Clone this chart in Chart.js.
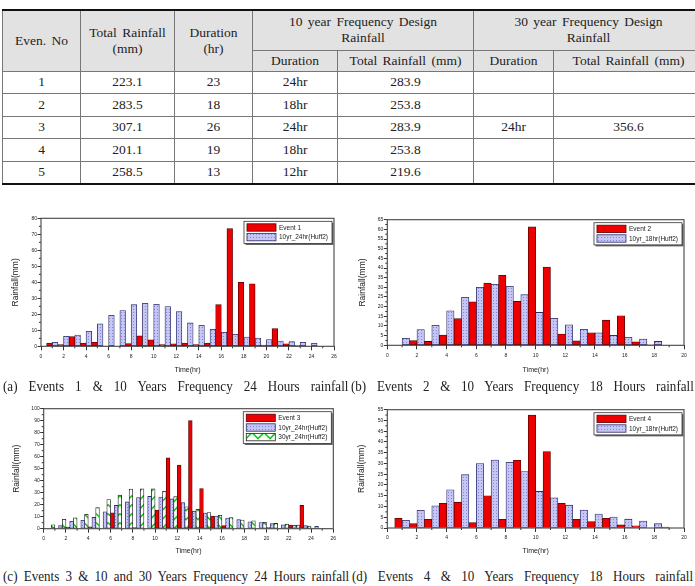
<!DOCTYPE html>
<html>
<head>
<meta charset="utf-8">
<script src="https://cdn.jsdelivr.net/npm/chart.js@4.4.1/dist/chart.umd.min.js"></script>
<style>
  body { margin:0; width:695px; height:586px; background:#fff; position:relative; overflow:hidden; font-family:"Liberation Serif", serif; color:#222; }
  canvas { position:absolute; }
  #tbl { position:absolute; left:2px; top:9px; border-collapse:collapse; table-layout:fixed; width:701px; font-size:13.5px; word-spacing:2px; }
  #tbl td, #tbl th { border:1px solid #777; padding:0; text-align:center; font-weight:normal; line-height:16px; }
  #tbl th { background:#e2e2e2; }
  #tbl tr:first-child th { border-top:2px solid #111; }
  #tbl tr:last-child td { border-bottom:2px solid #111; }
  #tbl .h1 { height:40px; } #tbl .h2 { height:21px; } #tbl .r { height:22.5px; }
  .cap { position:absolute; font-size:15px; line-height:18px; text-align:justify; text-align-last:justify; transform:scaleX(0.87); transform-origin:0 0; }
</style>
</head>
<body>
<table id="tbl">
  <colgroup><col style="width:78px"><col style="width:94px"><col style="width:78px"><col style="width:85px"><col style="width:136px"><col style="width:80px"><col style="width:150px"></colgroup>
  <tr class="h1"><th rowspan="2">Even. No</th><th rowspan="2">Total Rainfall<br>(mm)</th><th rowspan="2">Duration<br>(hr)</th><th colspan="2">10 year Frequency Design<br>Rainfall</th><th colspan="2">30 year Frequency Design<br>Rainfall</th></tr>
  <tr class="h2"><th>Duration</th><th>Total Rainfall (mm)</th><th>Duration</th><th>Total Rainfall (mm)</th></tr>
  <tr class="r"><td>1</td><td>223.1</td><td>23</td><td>24hr</td><td>283.9</td><td></td><td></td></tr>
  <tr class="r"><td>2</td><td>283.5</td><td>18</td><td>18hr</td><td>253.8</td><td></td><td></td></tr>
  <tr class="r"><td>3</td><td>307.1</td><td>26</td><td>24hr</td><td>283.9</td><td>24hr</td><td>356.6</td></tr>
  <tr class="r"><td>4</td><td>201.1</td><td>19</td><td>18hr</td><td>253.8</td><td></td><td></td></tr>
  <tr class="r"><td>5</td><td>258.5</td><td>13</td><td>12hr</td><td>219.6</td><td></td><td></td></tr>
</table>

<canvas id="chA"></canvas>
<canvas id="chB"></canvas>
<canvas id="chC"></canvas>
<canvas id="chD"></canvas>

<div class="cap" style="left:3px;top:377px;width:397px">(a) Events 1 &amp; 10 Years Frequency 24 Hours rainfall</div>
<div class="cap" style="left:351px;top:377px;width:394px">(b) Events 2 &amp; 10 Years Frequency 18 Hours rainfall</div>
<div class="cap" style="left:3px;top:567px;width:398px">(c) Events 3 &amp; 10 and 30 Years Frequency 24 Hours rainfall</div>
<div class="cap" style="left:352px;top:567px;width:392px">(d) Events 4 &amp; 10 Years Frequency 18 Hours rainfall</div>

<script>
/* rainfall hyetographs: observed events vs Huff design storms */

// hourly values (mm)
const hours24 = [1,2,3,4,5,6,7,8,9,10,11,12,13,14,15,16,17,18,19,20,21,22,23,24];
const event1 = [2,1,6,2,2.5,0,0,1.7,6.5,4,1,1.5,2,1,2,26,73.5,40,39,0.8,11,1.5,0.5,0];
const huff10yr24 = [2.5,6.2,7,9.4,14,19.4,22.3,26,26.9,26.3,24.8,21.7,14.6,13.1,10.6,8.8,7.5,5.8,5.2,4.2,3.3,2.9,2.5,1.9];

const hours19 = [1,2,3,4,5,6,7,8,9,10,11,12,13,14,15,16,17,18,19];
const event2 = [0,2.5,2,5.3,13.8,22.5,32.2,36.2,22.7,61.3,40.5,5.8,2.3,6.5,13,15.3,1.8,0.3];
const huff10yr18 = [3.6,8.2,10.3,17.8,24.8,30,31.6,30.5,26.2,17,14,10.6,8.3,6.5,5.1,4.1,3.2,2];
const event4 = [4.5,2,4,11.5,12,2.5,15,4,31.5,52.5,35.5,11.5,4,3,4.5,1.5,1,0,0.4];

// event 3 chart groups three bars per hour slot
const slots25 = [0.5,1.5,2.5,3.5,4.5,5.5,6.5,7.5,8.5,9.5,10.5,11.5,12.5,13.5,14.5,15.5,16.5,17.5,18.5,19.5,20.5,21.5,22.5,23.5,24.5];
const event3 = [0,0,1.4,0,1.5,0,13.3,0,1,0,15.5,59,53,90,33.4,10.6,2.5,0,0,0,1,0,3,19.4,0.5];
const huff10yr24c = [0, ...huff10yr24];
const huff30yr24 = [3.3,7.8,9,12,17.5,24.3,28,33,33.3,33.3,31.2,26.7,18.3,16.1,13.4,11.1,9.2,7.2,6.6,5.3,4.4,3.9,3,2.2,0];

Chart.defaults.font.family = '"Liberation Sans", Arial, sans-serif';

function dotPattern(ctx) {
  const c = document.createElement('canvas'); c.width = c.height = 3;
  const g = c.getContext('2d');
  g.fillStyle = '#c6c6f5'; g.fillRect(0, 0, 3, 3);
  g.fillStyle = '#8282e2'; g.fillRect(1, 1, 1, 1);
  return ctx.createPattern(c, 'repeat');
}
function zigPattern(ctx) {
  const c = document.createElement('canvas'); c.width = 12; c.height = 9;
  const g = c.getContext('2d');
  g.fillStyle = '#fff'; g.fillRect(0, 0, 12, 9);
  g.strokeStyle = '#22c422'; g.lineWidth = 1.6;
  g.beginPath(); g.moveTo(0, 1.5); g.lineTo(6, 7.5); g.lineTo(12, 1.5); g.stroke();
  return ctx.createPattern(c, 'repeat');
}
const RED = '#ee0000', RED_EDGE = '#5a0000';
const BLUE_EDGE = '#2c2c66', GREEN_EDGE = '#222';

const pts = (xs, ys) => ys.map((y, i) => ({x: xs[i], y}));

// frame round the plot + minor ticks (Origin style)
const frame = {
  id: 'frame',
  afterDraw(chart) {
    const {ctx, chartArea: a, scales: {x, y}} = chart;
    const ym = chart.options.scales.y.ticks.stepSize / 2;
    ctx.save();
    ctx.strokeStyle = '#333'; ctx.lineWidth = 1;
    ctx.beginPath();
    for (let v = 1; v < x.max; v += 2) { const p = x.getPixelForValue(v); ctx.moveTo(p, a.bottom); ctx.lineTo(p, a.bottom + 2); }
    for (let v = ym; v < y.max; v += ym * 2) { const p = y.getPixelForValue(v); ctx.moveTo(a.left, p); ctx.lineTo(a.left - 2, p); }
    ctx.stroke();
    ctx.strokeStyle = '#444'; ctx.lineWidth = 1.1;
    ctx.strokeRect(a.left, a.top, a.right - a.left, a.bottom - a.top);
    ctx.restore();
  }
};

// boxed legend in the top right corner of the plot
const boxLegend = {
  id: 'boxLegend',
  afterDraw(chart) {
    const {ctx, chartArea: a} = chart;
    const sets = chart.data.datasets;
    ctx.save();
    ctx.font = '6.5px "Liberation Sans"';
    const tw = Math.max(...sets.map(d => ctx.measureText(d.label).width));
    const rowH = 9.6, sw = 29, sh = 7.4;
    const w = 3 + sw + 3 + tw + 4, h = 3 + sets.length * rowH;
    const x0 = a.right - 2 - w, y0 = a.top + 3;
    ctx.fillStyle = '#666'; ctx.fillRect(x0 + 1.5, y0 + 1.5, w, h);
    ctx.fillStyle = '#fff'; ctx.fillRect(x0, y0, w, h);
    ctx.strokeStyle = '#333'; ctx.lineWidth = 0.8; ctx.strokeRect(x0, y0, w, h);
    sets.forEach((d, i) => {
      const yy = y0 + 2.5 + i * rowH;
      ctx.fillStyle = d.backgroundColor; ctx.fillRect(x0 + 3, yy, sw, sh);
      ctx.strokeStyle = d.borderColor; ctx.strokeRect(x0 + 3, yy, sw, sh);
      ctx.fillStyle = '#222'; ctx.textBaseline = 'middle';
      ctx.fillText(d.label, x0 + 3 + sw + 3, yy + sh / 2 + 0.3);
    });
    ctx.restore();
  }
};

function rainChart(id, box, area, o) {
  const cv = document.getElementById(id);
  cv.width = box.w; cv.height = box.h;
  cv.style.left = box.x + 'px'; cv.style.top = box.y + 'px';
  const g = cv.getContext('2d');
  const fills = {red: RED, blue: dotPattern(g), green: zigPattern(g)};
  const edges = {red: RED_EDGE, blue: BLUE_EDGE, green: GREEN_EDGE};
  const sets = o.sets.map(s => ({label: s.label, data: s.data, backgroundColor: fills[s.kind], borderColor: edges[s.kind]}));
  const tickFont = {size: 5};
  return new Chart(cv, {
    type: 'bar',
    data: {datasets: sets},
    options: {
      responsive: false, animation: false,
      layout: {padding: {left: 0, top: area.t - box.y, right: box.x + box.w - area.r, bottom: 0}},
      plugins: {legend: {display: false}, tooltip: {enabled: false}},
      datasets: {bar: {barPercentage: 1, categoryPercentage: 1, borderWidth: 0.8, borderSkipped: false}},
      scales: {
        x: {
          type: 'linear', min: 0, max: o.xMax, offset: false,
          grid: {drawOnChartArea: false, tickLength: 4, color: '#333', offset: false},
          border: {display: false},
          ticks: {stepSize: 2, padding: 3, font: tickFont, color: '#222', maxRotation: 0, autoSkip: false},
          title: {display: true, text: 'Time(hr)', font: {size: 7}, color: '#222',
                  padding: {top: 0, bottom: box.y + box.h - o.xTitleY - 4.2}},
          afterFit: s => { s.height = box.y + box.h - area.b; }
        },
        y: {
          min: 0, max: o.yMax,
          grid: {drawOnChartArea: false, tickLength: 3.5, color: '#333'},
          border: {display: false},
          ticks: {stepSize: o.yStep, padding: 0.5, font: tickFont, color: '#222', autoSkip: false},
          title: {display: true, text: 'Rainfall(mm)', font: {size: 8.5}, color: '#222',
                  padding: {top: o.yTitleX - box.x - 5.1, bottom: 0}},
          afterFit: s => { s.width = area.l - box.x; }
        }
      }
    },
    plugins: [frame, boxLegend]
  });
}

rainChart('chA', {x: 0, y: 200, w: 345, h: 180}, {l: 41, t: 218.3, r: 334, b: 346.3}, {
  xMax: 26, yMax: 80, yStep: 10, yTitleX: 16, xTitleY: 370,
  sets: [
    {label: 'Event 1', kind: 'red', data: pts(hours24, event1)},
    {label: '10yr_24hr(Huff2)', kind: 'blue', data: pts(hours24, huff10yr24)}
  ]
});

rainChart('chB', {x: 345, y: 200, w: 350, h: 180}, {l: 387.3, t: 219.7, r: 684, b: 345.3}, {
  xMax: 20, yMax: 65, yStep: 5, yTitleX: 363, xTitleY: 370,
  sets: [
    {label: 'Event 2', kind: 'red', data: pts(hours19, event2)},
    {label: '10yr_18hr(Huff2)', kind: 'blue', data: pts(hours19, huff10yr18)}
  ]
});

rainChart('chC', {x: 0, y: 395, w: 345, h: 170}, {l: 43.7, t: 408.7, r: 333.3, b: 528.7}, {
  xMax: 26, yMax: 100, yStep: 10, yTitleX: 16.7, xTitleY: 551,
  sets: [
    {label: 'Event 3', kind: 'red', data: pts(slots25, event3)},
    {label: '10yr_24hr(Huff2)', kind: 'blue', data: pts(slots25, huff10yr24c)},
    {label: '30yr_24hr(Huff2)', kind: 'green', data: pts(slots25, huff30yr24)}
  ]
});

rainChart('chD', {x: 345, y: 395, w: 350, h: 170}, {l: 387.3, t: 409.7, r: 684, b: 528}, {
  xMax: 20, yMax: 55, yStep: 5, yTitleX: 362, xTitleY: 551,
  sets: [
    {label: 'Event 4', kind: 'red', data: pts(hours19, event4)},
    {label: '10yr_18hr(Huff2)', kind: 'blue', data: pts(hours19, huff10yr18)}
  ]
});
</script>
</body>
</html>
